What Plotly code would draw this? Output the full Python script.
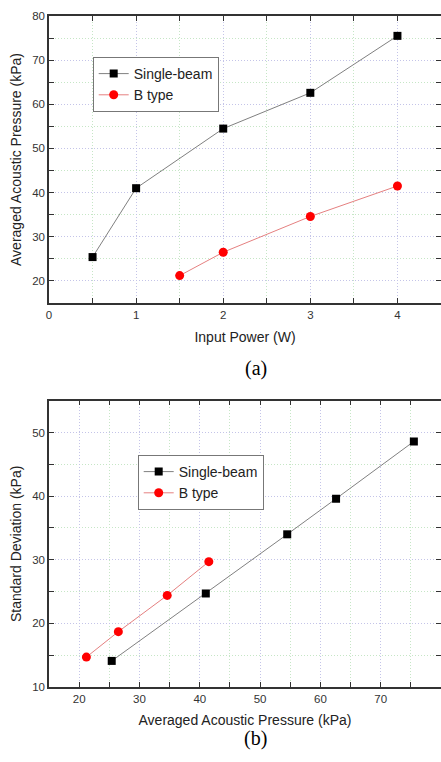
import plotly.graph_objects as go

# ---- data (a) ----
power_single = [0.5, 1, 2, 3, 4]
pressure_single = [25.4, 41.0, 54.5, 62.6, 75.5]
power_btype = [1.5, 2, 3, 4]
pressure_btype = [21.2, 26.5, 34.6, 41.5]

# ---- data (b) ----
std_single = [14.1, 24.7, 34.0, 39.6, 48.6]
std_btype = [14.7, 18.7, 24.4, 29.7]

series_names = ["Single-beam", "B type"]

W, H = 441, 762
ML, MR, MT, MB = 49, 0, 16, 75
PH = H - MT - MB


def fy(px):
    return min(1.0, max(0.0, (H - MB - px) / PH))


def fx(px):
    return (px - ML) / (W - ML - MR)


black_line = dict(color="#808080", width=1)
red_line = dict(color="#e58080", width=1)
sq = dict(symbol="square", size=8, color="black")
ci = dict(symbol="circle", size=9, color="#ff0000")

fig = go.Figure()
fig.add_trace(go.Scatter(x=power_single, y=pressure_single, mode="lines+markers",
                         name=series_names[0], line=black_line, marker=sq,
                         xaxis="x", yaxis="y", legend="legend"))
fig.add_trace(go.Scatter(x=power_btype, y=pressure_btype, mode="lines+markers",
                         name=series_names[1], line=red_line, marker=ci,
                         xaxis="x", yaxis="y", legend="legend"))
fig.add_trace(go.Scatter(x=pressure_single, y=std_single, mode="lines+markers",
                         name=series_names[0], line=black_line, marker=sq,
                         xaxis="x2", yaxis="y2", legend="legend2"))
fig.add_trace(go.Scatter(x=pressure_btype, y=std_btype, mode="lines+markers",
                         name=series_names[1], line=red_line, marker=ci,
                         xaxis="x2", yaxis="y2", legend="legend2"))

font = dict(family="Liberation Sans, Arial, sans-serif", size=14, color="#222")
tickfont = dict(family="Liberation Sans, Arial, sans-serif", size=11.5, color="#333")

common = dict(
    showline=True, linecolor="#333", linewidth=1.5, mirror="ticks",
    ticks="inside", ticklen=5, tickcolor="#333", tickwidth=1.2,
    showgrid=True, gridcolor="#c4c4e8", griddash="1px,2px", gridwidth=1,
    zeroline=False, tickfont=tickfont,
)


def minor(d):
    return dict(dtick=d, showgrid=True, gridcolor="#c6e6c6", griddash="1px,2px",
                gridwidth=1, ticks="inside", ticklen=5, tickcolor="#333", tickwidth=1.2)


top_dom = [fy(303), fy(16)]
bot_dom = [fy(687.3), fy(400.7)]

fig.update_layout(
    width=W, height=H,
    margin=dict(l=ML, r=MR, t=MT, b=MB, autoexpand=False),
    paper_bgcolor="white", plot_bgcolor="white",
    font=font,
    showlegend=True,
    xaxis=dict(common, domain=[0, 1], anchor="y", range=[0, 4.5], dtick=1, tick0=0,
               minor=minor(0.5),
               title=dict(text="Input Power (W)", font=font, standoff=13)),
    yaxis=dict(common, domain=top_dom, anchor="x", range=[15, 80], dtick=10, tick0=0,
               minor=minor(5),
               title=dict(text="Averaged Acoustic Pressure (kPa)", font=font, standoff=7)),
    xaxis2=dict(common, domain=[0, 1], anchor="y2", range=[15, 80], dtick=10, tick0=0,
                minor=minor(5),
                title=dict(text="Averaged Acoustic Pressure (kPa)", font=font, standoff=12)),
    yaxis2=dict(common, domain=bot_dom, anchor="x2", range=[10, 55], dtick=10, tick0=0,
                minor=minor(5),
                title=dict(text="Standard Deviation (kPa)", font=font, standoff=7)),
    legend=dict(x=fx(92.7), y=fy(57), xanchor="left", yanchor="top",
                bgcolor="white", bordercolor="#777", borderwidth=1,
                font=font, tracegroupgap=0, itemwidth=30),
    legend2=dict(x=fx(137.7), y=fy(455), xanchor="left", yanchor="top",
                 bgcolor="white", bordercolor="#777", borderwidth=1,
                 font=font, tracegroupgap=0, itemwidth=30),
    annotations=[
        dict(text="(a)", x=fx(256), y=fy(368), xref="paper", yref="paper",
             showarrow=False, font=dict(family="Liberation Serif, Times New Roman, serif",
                                        size=20, color="black")),
        dict(text="(b)", x=fx(256), y=(H - MB - 751.5) / PH, xref="paper", yref="paper",
             showarrow=False, font=dict(family="Liberation Serif, Times New Roman, serif",
                                        size=20, color="black")),
    ],
)

fig.write_html(
    "out.html",
    config={"displayModeBar": False},
    post_script="document.body.style.margin='0';document.body.style.overflow='hidden';",
)
